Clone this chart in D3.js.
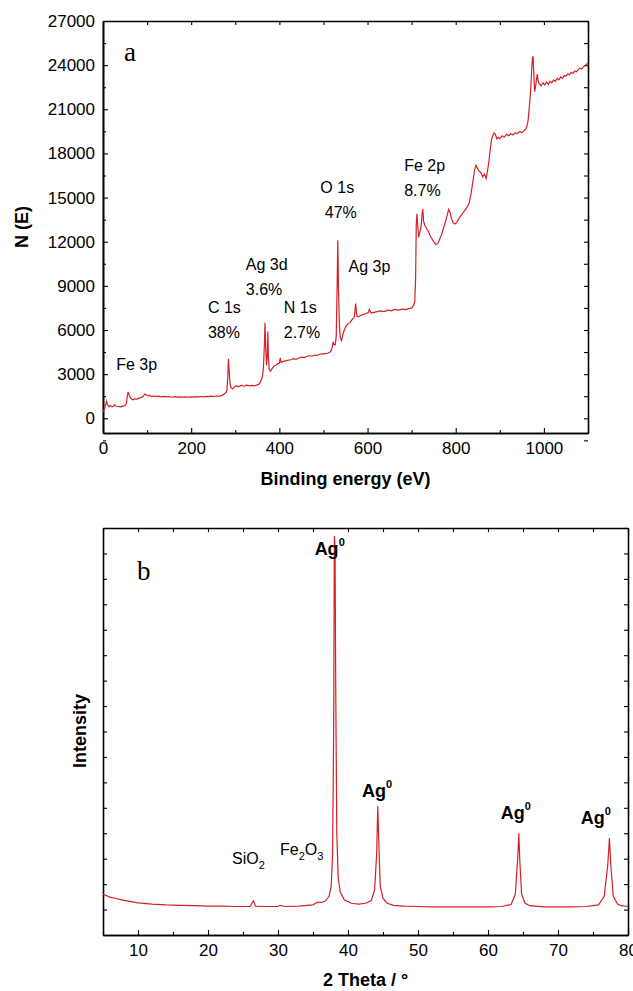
<!DOCTYPE html>
<meta charset="utf-8">
<style>
  body { margin: 0; background: #fff; }
  svg text { font-family: "Liberation Sans", Arial, sans-serif; fill: #000; }
  .axis path, .axis line { stroke: #000; }
  .axis path { stroke-width: 1.6; }
  .axis line { stroke-width: 1.1; }
  .axis text { font-size: 17px; }
  .serif { font-family: "Liberation Serif", "Times New Roman", serif !important; }
</style>
<svg width="633" height="991"></svg>
<script src="https://d3js.org/d3.v7.min.js"></script>
<script>

// ---- panel a : XPS survey (binding energy eV, counts) ----
var xpsEnergy = [0,3,6,8,10,13,17,22,26,30,35,40,45,50,53,55,57,59,62,65,68,72,76,80,85,90,95,98,102,106,110,115,120,126,132,138,144,150,156,162,168,174,180,186,192,198,204,210,216,222,228,234,240,246,252,258,264,270,275,279,281,283,284.5,286,288,290,294,298,302,308,314,320,326,332,338,344,350,355,359,362,364,366,367.5,369,371,372.5,373.8,375,377,380,384,388,392,396,400,402,404,408,414,420,426,432,438,444,450,456,462,468,474,480,486,492,498,504,510,515,519,522,524,527,529,531,532.5,534,536,538,541,545,550,555,560,565,570,573,576,580,585,590,596,602,604,608,615,622,630,638,646,654,662,670,678,686,694,700,704,707,709,710.5,712,714,716,718,720,722,724,725.5,727,730,734,738,742,746,750,755,760,764,768,772,776,780,784,787,790,794,798,802,806,810,815,820,825,830,835,840,843,846,849,853,857,861,865,869,872,875,878,881,884,887,890,893,896,900,905,910,915,920,925,930,935,940,945,950,955,960,964,967,970,972,974,975.5,977,979,981,983,985,987,990,994,998,1002,1006,1010,1014,1018,1022,1026,1030,1034,1038,1042,1046,1050,1054,1058,1062,1066,1070,1074,1078,1082,1086,1090,1094,1097,1100];
var xpsCounts = [450,600,900,1150,950,800,850,780,920,820,800,780,830,870,1000,1500,1800,1600,1400,1300,1250,1330,1280,1350,1400,1450,1650,1600,1520,1560,1480,1520,1470,1500,1460,1490,1450,1480,1430,1470,1440,1460,1420,1450,1430,1460,1440,1470,1450,1480,1460,1490,1470,1500,1480,1510,1500,1560,1650,1750,1900,2800,4050,3300,2400,2100,2000,2150,2200,2150,2230,2180,2250,2200,2240,2210,2270,2350,2600,2900,3500,5000,6500,4800,3600,4200,5900,4300,3300,3200,3400,3550,3600,3700,3750,4100,3800,3850,3900,3950,3980,4050,4000,4100,4150,4120,4200,4250,4220,4300,4280,4350,4380,4400,4420,4500,4700,5200,5000,5000,5600,9000,12100,9000,6500,5500,5300,5800,6200,6400,6500,6700,6900,7800,6900,6900,7000,7050,7100,7200,7400,7150,7200,7250,7300,7250,7350,7300,7400,7350,7420,7380,7450,7500,7650,7900,9500,13200,13900,13000,12300,12600,12800,13200,14000,14200,13400,13100,12900,12700,12400,12200,12000,11800,11900,12200,12500,12900,13300,13700,14200,14000,13600,13300,13200,13300,13500,13700,13900,14100,14300,14600,15300,16300,16900,17200,17000,16800,16700,16400,16600,16300,16800,17400,18200,18900,19200,19400,19300,19000,19100,19000,19200,19100,19300,19200,19350,19250,19400,19350,19500,19400,19550,19700,20200,21200,22300,23500,24500,24600,23500,22200,22500,23000,23400,22900,22700,22600,22800,22650,22850,22700,22900,22800,23000,22900,23100,23000,23200,23100,23300,23250,23400,23350,23500,23450,23600,23550,23700,23800,23750,23900,24000,24050,24150];

var xpsXTicks = [0,200,400,600,800,1000];
var xpsXMinor = [100,300,500,700,900,1100];
var xpsYTicks = [0,3000,6000,9000,12000,15000,18000,21000,24000,27000];
var xpsYMinor = [-1500,1500,4500,7500,10500,13500,16500,19500,22500,25500];

var xpsNotes = [
  {e: 30,  n: 3300,  lines: ["Fe 3p"]},
  {e: 238, n: 7150,  lines: ["C 1s", "38%"]},
  {e: 324, n: 10100, lines: ["Ag 3d", "3.6%"]},
  {e: 410, n: 7150,  lines: ["N 1s", "2.7%"]},
  {e: 493, n: 15300, lines: ["O 1s", " 47%"]},
  {e: 557, n: 9950,  lines: ["Ag 3p"]},
  {e: 683, n: 16800, lines: ["Fe 2p", "8.7%"]}
];

// ---- panel b : XRD (2 theta, intensity a.u.) ----
var xrdAngle = [5,6,7,8,9,10,12,14,16,18,20,22,24,26,26.5,26.8,28,30,30.3,31,33,35,35.6,36.2,36.8,37.3,37.6,37.8,37.95,38.05,38.15,38.25,38.4,38.6,38.9,39.5,40.5,41.5,42.5,43.3,43.8,44.1,44.25,44.4,44.6,45,45.6,46.5,48,50,52,54,56,58,60,62,63.3,63.9,64.25,64.4,64.55,64.8,65.3,66,68,70,72,74,75.8,76.6,77.1,77.35,77.55,77.9,78.5,79,80];
var xrdIntensity = [100,93,89,85,82,79,76,74,73,72,71,71,70,70,84,71,70,70,73,70,71,74,80,80,84,95,120,200,500,980,950,600,250,140,105,86,78,76,78,84,110,200,316,230,120,90,78,73,71,70,69,69,69,69,69,70,75,100,190,250,180,100,78,72,69,69,69,70,74,95,170,238,170,95,76,72,70];

var xrdXTicks = [10,20,30,40,50,60,70,80];
var xrdXMinor = [5,15,25,35,45,55,65,75];
var xrdYTicks = [0,62.5,125,187.5,250,312.5,375,437.5,500,562.5,625,687.5,750,812.5,875,937.5,1000];

var xrdAgPeaks = [38.1, 44.3, 64.4, 77.4];
var xrdAgLabelY = [953, 359, 304, 292];
var agShift = [-5, -1, -3, -14];

var svg = d3.select("svg");
var red = "#d42027";
var plain = d3.format("d");

// ================= panel a =================
var ax = d3.scaleLinear().domain([0, 1100]).range([103, 588]);
var ay = d3.scaleLinear().domain([-1000, 27000]).range([433, 21]);

var ga = svg.append("g");

ga.append("g").attr("class", "axis")
    .attr("transform", "translate(0,433)")
    .call(d3.axisBottom(ax).tickValues(xpsXTicks).tickFormat(plain).tickSizeInner(-5).tickSizeOuter(0).tickPadding(9));
ga.append("g").attr("class", "axis")
    .attr("transform", "translate(0,433)")
    .call(d3.axisBottom(ax).tickValues(xpsXMinor).tickSizeInner(-3).tickSizeOuter(0).tickFormat(""));
ga.append("g").attr("class", "axis")
    .attr("transform", "translate(0,21)")
    .call(d3.axisTop(ax).tickValues(xpsXTicks.concat(xpsXMinor)).tickSizeInner(-4).tickSizeOuter(0).tickFormat(""));
ga.append("g").attr("class", "axis")
    .attr("transform", "translate(103,0)")
    .call(d3.axisLeft(ay).tickValues(xpsYTicks).tickFormat(plain).tickSizeInner(-5).tickSizeOuter(0).tickPadding(8));
ga.append("g").attr("class", "axis")
    .attr("transform", "translate(103,0)")
    .call(d3.axisLeft(ay).tickValues(xpsYMinor).tickSizeInner(-3).tickSizeOuter(0).tickFormat(""));
ga.append("g").attr("class", "axis")
    .attr("transform", "translate(588,0)")
    .call(d3.axisRight(ay).tickValues(xpsYTicks.concat(xpsYMinor)).tickSizeInner(-4).tickSizeOuter(0).tickFormat(""));

var xpsLine = d3.line()
    .x(function(d, i) { return ax(xpsEnergy[i]); })
    .y(function(d) { return ay(d); });

ga.append("path")
    .datum(xpsCounts)
    .attr("fill", "none")
    .attr("stroke", red)
    .attr("stroke-width", 1.2)
    .attr("d", xpsLine);

xpsNotes.forEach(function(n) {
  n.lines.forEach(function(t, i) {
    ga.append("text")
        .attr("x", ax(n.e))
        .attr("y", ay(n.n) + i * 25)
        .style("font-size", "16px")
        .attr("xml:space", "preserve")
        .text(t);
  });
});

ga.append("text").attr("class", "serif")
    .attr("x", 124).attr("y", 61)
    .style("font-size", "27px")
    .text("a");

ga.append("text")
    .attr("x", (103 + 588) / 2).attr("y", 485)
    .attr("text-anchor", "middle")
    .style("font-size", "18px").style("font-weight", "bold")
    .text("Binding energy (eV)");

ga.append("text")
    .attr("transform", "translate(28,227) rotate(-90)")
    .attr("text-anchor", "middle")
    .style("font-size", "18px").style("font-weight", "bold")
    .text("N (E)");

// ================= panel b =================
var bx = d3.scaleLinear().domain([5, 80]).range([103, 628]);
var by = d3.scaleLinear().domain([0, 1000]).range([935, 528]);

var gb = svg.append("g");

gb.append("g").attr("class", "axis")
    .attr("transform", "translate(0,935)")
    .call(d3.axisBottom(bx).tickValues(xrdXTicks).tickSizeInner(-5).tickSizeOuter(0).tickPadding(9));
gb.append("g").attr("class", "axis")
    .attr("transform", "translate(0,935)")
    .call(d3.axisBottom(bx).tickValues(xrdXMinor).tickSizeInner(-3).tickSizeOuter(0).tickFormat(""));
gb.append("g").attr("class", "axis")
    .attr("transform", "translate(0,528)")
    .call(d3.axisTop(bx).tickValues(xrdXTicks.concat(xrdXMinor)).tickSizeInner(-4).tickSizeOuter(0).tickFormat(""));
gb.append("g").attr("class", "axis")
    .attr("transform", "translate(103,0)")
    .call(d3.axisLeft(by).tickValues(xrdYTicks).tickSizeInner(-4).tickSizeOuter(0).tickFormat(""));
gb.append("g").attr("class", "axis")
    .attr("transform", "translate(628,0)")
    .call(d3.axisRight(by).tickValues(xrdYTicks).tickSizeInner(-4).tickSizeOuter(0).tickFormat(""));

var xrdLine = d3.line()
    .x(function(d, i) { return bx(xrdAngle[i]); })
    .y(function(d) { return by(d); });

gb.append("path")
    .datum(xrdIntensity)
    .attr("fill", "none")
    .attr("stroke", red)
    .attr("stroke-width", 1.2)
    .attr("d", xrdLine);

xrdAgPeaks.forEach(function(p, i) {
  var t = gb.append("text")
      .attr("x", bx(p) + agShift[i]).attr("y", by(xrdAgLabelY[i]) + 8)
      .attr("text-anchor", "middle")
      .style("font-size", "18px").style("font-weight", "bold");
  t.append("tspan").text("Ag");
  t.append("tspan").attr("dy", -9).style("font-size", "11px").text("0");
});

var si = gb.append("text").attr("x", 232).attr("y", 864).style("font-size", "16px");
si.append("tspan").text("SiO");
si.append("tspan").attr("dy", 5).style("font-size", "11px").text("2");

var fe = gb.append("text").attr("x", 280).attr("y", 855).style("font-size", "16px");
fe.append("tspan").text("Fe");
fe.append("tspan").attr("dy", 5).style("font-size", "11px").text("2");
fe.append("tspan").attr("dy", -5).text("O");
fe.append("tspan").attr("dy", 5).style("font-size", "11px").text("3");

gb.append("text").attr("class", "serif")
    .attr("x", 137).attr("y", 580)
    .style("font-size", "27px")
    .text("b");

gb.append("text")
    .attr("x", (103 + 628) / 2).attr("y", 986)
    .attr("text-anchor", "middle")
    .style("font-size", "18px").style("font-weight", "bold")
    .text("2 Theta / \u00b0");

gb.append("text")
    .attr("transform", "translate(86,731) rotate(-90)")
    .attr("text-anchor", "middle")
    .style("font-size", "18px").style("font-weight", "bold")
    .text("Intensity");

</script>
